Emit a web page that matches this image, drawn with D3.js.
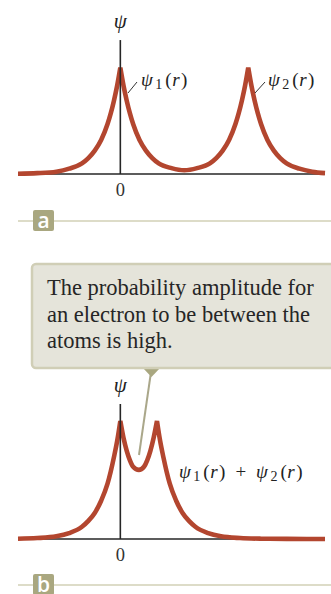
<!DOCTYPE html>
<html>
<head>
<meta charset="utf-8">
<script src="https://cdn.jsdelivr.net/npm/d3@7"></script>
<style>
  html, body { margin: 0; padding: 0; background: #fff; }
  svg { display: block; }
</style>
</head>
<body>
<svg id="fig" width="331" height="594"></svg>
<script>
// panel a: two separate atomic wave functions, peaks at r = 0 and r = 2
var rA   = [-1.6, -1.3, -1.0, -0.8, -0.6, -0.5, -0.4, -0.3, -0.2, -0.15, -0.1, -0.05, 0,
            0.05, 0.1, 0.15, 0.2, 0.3, 0.4, 0.5, 0.6, 0.8, 1.0, 1.2, 1.4, 1.5, 1.6, 1.7,
            1.8, 1.85, 1.9, 1.95, 2.0, 2.05, 2.1, 2.15, 2.2, 2.3, 2.4, 2.5, 2.6, 2.8, 3.0, 3.2];
var psiA = [0.003, 0.008, 0.022, 0.05, 0.10, 0.15, 0.22, 0.32, 0.47, 0.57, 0.69, 0.83, 1.0,
            0.83, 0.69, 0.57, 0.47, 0.32, 0.22, 0.15, 0.10, 0.055, 0.035, 0.055, 0.10, 0.15, 0.22, 0.32,
            0.47, 0.57, 0.69, 0.83, 1.0, 0.83, 0.69, 0.57, 0.47, 0.32, 0.22, 0.15, 0.10, 0.05, 0.022, 0.008];

// panel b: the atoms pushed together, the two functions added
var rB   = [-1.6, -1.3, -1.0, -0.8, -0.6, -0.5, -0.4, -0.3, -0.2, -0.15, -0.1, -0.05, 0,
            0.05, 0.1, 0.15, 0.2, 0.29, 0.37, 0.42, 0.47, 0.52, 0.573,
            0.623, 0.673, 0.723, 0.773, 0.873, 0.973, 1.073, 1.173, 1.373, 1.573, 1.873, 2.2, 2.6, 3.2];
var psiB = [0.003, 0.009, 0.025, 0.055, 0.115, 0.17, 0.245, 0.36, 0.52, 0.635, 0.77, 0.92, 1.11,
            0.95, 0.83, 0.74, 0.68, 0.65, 0.68, 0.74, 0.83, 0.95, 1.11,
            0.92, 0.77, 0.635, 0.52, 0.36, 0.245, 0.17, 0.115, 0.055, 0.025, 0.009, 0.003, 0.001, 0];

var rDomain = [-1.6, 3.2];
var psiTop = [1.26, 1.27];          // top of the ψ axis in each panel
var originLabel = "0";
var panelLetters = ["a", "b"];
var calloutLines = ["The probability amplitude for",
                    "an electron to be between the",
                    "atoms is high."];

var curveColor = "#b3462f",
    axisColor = "#262626",
    olive = "#a9a780",
    rule = "#dddcc8",
    serif = "'Liberation Serif', 'DejaVu Serif', serif";

var svg = d3.select("#fig");

var x = d3.scaleLinear().domain(rDomain).range([18, 325]);

var line = d3.line()
    .x(function(d) { return x(d.r); })
    .y(function(d) { return d.y; })
    .curve(d3.curveMonotoneX);

// split the curve at each peak so the tops stay sharp cusps,
// then glue the pieces back into a single path
function cuspPath(pts, y) {
    var segs = [], cur = [];
    pts.forEach(function(p, i) {
        var q = {r: p.r, y: y(p.psi)};
        cur.push(q);
        var prev = pts[i - 1], next = pts[i + 1];
        if (prev && next && p.psi > prev.psi && p.psi > next.psi) {
            segs.push(cur);
            cur = [q];
        }
    });
    segs.push(cur);
    return segs.map(function(s, i) {
        var d = line(s);
        return i === 0 ? d : d.replace(/^M[-\d.,e]+/, "");
    }).join("");
}

function psiLabel(g, xPos, yPos, parts) {
    var t = g.append("text")
        .attr("x", xPos)
        .attr("y", yPos)
        .attr("font-family", serif)
        .attr("font-size", 19)
        .attr("fill", "#222");
    parts.forEach(function(p) {
        t.append("tspan")
            .attr("font-style", p.italic ? "italic" : "normal")
            .attr("font-size", p.size || 19)
            .attr("dx", p.dx || 0)
            .attr("dy", p.dy || 0)
            .text(p.t);
    });
    return t;
}

function subscriptPsi(n) {
    return [
        {t: "ψ", italic: true},
        {t: n, size: 14, dx: 2.5, dy: 3},
        {t: "(", dx: 3, dy: -3},
        {t: "r", italic: true, dx: 0.5},
        {t: ")", dx: 1.5}
    ];
}

function drawPanel(opt) {
    var g = svg.append("g");
    var y = d3.scaleLinear().domain([0, opt.top]).range([opt.base, opt.base - opt.top * 106.3]);
    var pts = opt.r.map(function(r, i) { return {r: r, psi: opt.psi[i]}; });

    // r axis
    g.append("line")
        .attr("x1", x(rDomain[0])).attr("x2", x(rDomain[1]))
        .attr("y1", y(0)).attr("y2", y(0))
        .attr("stroke", axisColor)
        .attr("stroke-width", 1.6);

    g.append("path")
        .attr("d", cuspPath(pts, y))
        .attr("fill", "none")
        .attr("stroke", curveColor)
        .attr("stroke-width", 4.6)
        .attr("stroke-linejoin", "miter")
        .attr("stroke-miterlimit", 3);

    // ψ axis sits on top of the curve
    g.append("line")
        .attr("x1", x(0)).attr("x2", x(0))
        .attr("y1", y(opt.top)).attr("y2", y(0))
        .attr("stroke", axisColor)
        .attr("stroke-width", 1.6);

    g.append("text")
        .attr("x", x(0))
        .attr("y", y(opt.top) - 12)
        .attr("text-anchor", "middle")
        .attr("font-family", serif)
        .attr("font-style", "italic")
        .attr("font-size", 21)
        .attr("fill", "#222")
        .text("ψ");

    g.append("text")
        .attr("x", x(0))
        .attr("y", y(0) + 22)
        .attr("text-anchor", "middle")
        .attr("font-family", serif)
        .attr("font-size", 18.5)
        .attr("fill", "#333")
        .text(originLabel);

    // panel rule with its letter tab
    g.append("line")
        .attr("x1", 18).attr("x2", 331)
        .attr("y1", opt.rule).attr("y2", opt.rule)
        .attr("stroke", rule)
        .attr("stroke-width", 2);
    g.append("rect")
        .attr("x", 33).attr("y", opt.rule - 11)
        .attr("width", 21).attr("height", 21)
        .attr("rx", 2)
        .attr("fill", olive);
    g.append("text")
        .attr("x", 43.5)
        .attr("y", opt.rule + 7)
        .attr("text-anchor", "middle")
        .attr("font-family", "'Open Sans', 'DejaVu Sans', sans-serif")
        .attr("font-weight", 600)
        .attr("font-size", 21)
        .attr("fill", "#fff")
        .text(opt.letter);

    return g;
}

var ga = drawPanel({r: rA, psi: psiA, top: psiTop[0], base: 174, rule: 221, letter: panelLetters[0]});
var gb = drawPanel({r: rB, psi: psiB, top: psiTop[1], base: 539, rule: 585, letter: panelLetters[1]});

// leader ticks to the two labels in panel a
[[128, 93, 137, 82], [255, 93, 265, 82]].forEach(function(l) {
    ga.append("line")
        .attr("x1", l[0]).attr("y1", l[1])
        .attr("x2", l[2]).attr("y2", l[3])
        .attr("stroke", "#333")
        .attr("stroke-width", 1);
});
psiLabel(ga, 141, 86, subscriptPsi("1"));
psiLabel(ga, 268, 86, subscriptPsi("2"));

// combined label in panel b
psiLabel(gb, 179, 478, subscriptPsi("1").concat(
    [{t: "+", dx: 10}],
    subscriptPsi("2").map(function(p, i) { return i === 0 ? {t: p.t, italic: true, dx: 10} : p; })
));

// callout box pointing into the gap between the atoms
var callout = svg.append("g");
callout.append("line")
    .attr("x1", 151).attr("y1", 372)
    .attr("x2", 139).attr("y2", 455)
    .attr("stroke", "#aaa78a")
    .attr("stroke-width", 2);
callout.append("path")
    .attr("d", "M142,367L161,367L151.5,377Z")
    .attr("fill", olive);
callout.append("rect")
    .attr("x", 32).attr("y", 264)
    .attr("width", 302).attr("height", 104)
    .attr("rx", 4)
    .attr("fill", "#e5e4da")
    .attr("stroke", "#d0ceb6")
    .attr("stroke-width", 2.5);

callout.selectAll("text")
    .data(calloutLines)
    .enter().append("text")
    .attr("x", 47)
    .attr("y", function(d, i) { return 295 + i * 26.5; })
    .attr("font-family", serif)
    .attr("font-size", 22.5)
    .attr("fill", "#262626")
    .text(function(d) { return d; });
</script>
</body>
</html>
